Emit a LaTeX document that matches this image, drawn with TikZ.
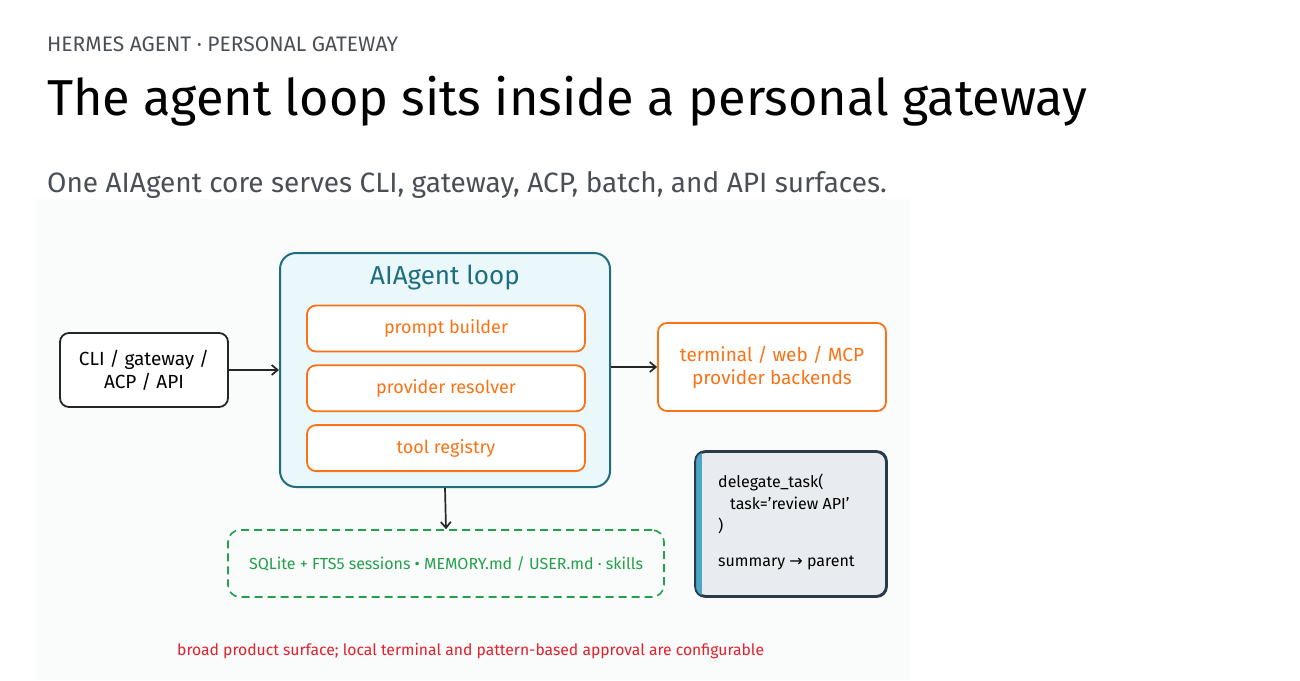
\documentclass[tikz,border=0pt]{standalone}
\usepackage{fontspec}
\setmainfont{Fira Sans}
\newfontfamily\symfont{DejaVu Sans}
\usetikzlibrary{arrows.meta,positioning}

\definecolor{inkgray}{HTML}{4A4F55}
\definecolor{diagbg}{HTML}{FAFBFB}
\definecolor{loopteal}{HTML}{1E6E80}
\definecolor{loopfill}{HTML}{EAF7FB}
\definecolor{partorange}{HTML}{F97316}
\definecolor{memgreen}{HTML}{23A04A}
\definecolor{notefill}{HTML}{E8ECF1}
\definecolor{noteedge}{HTML}{2B3A48}
\definecolor{notebar}{HTML}{4BA6C8}
\definecolor{warnred}{HTML}{E3202C}

\begin{document}
\begin{tikzpicture}[x=1pt, y=-1pt, node distance=12pt,
  flow/.style={-{Straight Barb[length=6pt,width=10pt]}, line width=1.7pt, black!85},
  plainbox/.style={draw=black!85, line width=1.8pt, rounded corners=9pt, fill=white, align=center, font=\fontsize{19}{23}\selectfont},
  partbox/.style={draw=partorange, line width=1.8pt, rounded corners=9pt, fill=white, text=partorange, minimum width=278pt, minimum height=46pt, font=\fontsize{18}{22}\selectfont},
  memorybox/.style={draw=memgreen, line width=1.6pt, dashed, dash pattern=on 8pt off 5pt, rounded corners=12pt, text=memgreen, minimum width=436pt, minimum height=67pt, font=\fontsize{16}{19}\selectfont}]
  \useasboundingbox (0,0) rectangle (1300,680);
  \fill[diagbg] (35,199) rectangle (910,680);

  % header texts
  \node[anchor=west, text=inkgray, font=\fontsize{21}{25}\selectfont, inner sep=0pt] (kicker) at (47,44) {HERMES AGENT · PERSONAL GATEWAY};
  \node[anchor=west, font=\fontsize{50.5}{58}\selectfont, inner sep=0pt] (title) at (47,101) {The agent loop sits inside a personal gateway};
  \node[anchor=west, text=inkgray, font=\fontsize{28}{33}\selectfont, inner sep=0pt] (subtitle) at (47,185) {One AIAgent core serves CLI, gateway, ACP, batch, and API surfaces.};

  % agent loop
  \node[draw=loopteal, line width=2pt, rounded corners=16pt, fill=loopfill, minimum width=330pt, minimum height=234pt] (loop) at (445,370) {};
  \node[text=loopteal, font=\fontsize{26}{30}\selectfont, inner sep=0pt] (looptitle) at (445,278) {AIAgent loop};
  \node[partbox] (prompt) at (446,328.5) {prompt builder};
  \node[partbox, below=of prompt] (resolver) {provider resolver};
  \node[partbox, below=of resolver] (registry) {tool registry};

  % surfaces and backends
  \node[plainbox, minimum width=168pt, minimum height=74pt] (surfaces) at (144,370) {CLI / gateway /\\ACP / API};
  \node[plainbox, draw=partorange, text=partorange, minimum width=228pt, minimum height=88pt] (backends) at (772,367) {terminal / web / MCP\\provider backends};

  % memory
  \node[memorybox] (memory) at (446,563.5) {SQLite + FTS5 sessions • MEMORY.md / USER.md · skills};

  % delegate note
  \node[draw=noteedge, line width=1.8pt, rounded corners=10pt, fill=notefill, minimum width=190pt, minimum height=144pt] (delegate) at (791,524) {};
  \begin{scope}
    \clip[rounded corners=10pt] (delegate.south west) rectangle (delegate.north east);
    \fill[notebar] (delegate.south west) rectangle ([xshift=7pt]delegate.north west);
  \end{scope}
  \draw[noteedge, line width=1.8pt, rounded corners=10pt] (delegate.south west) rectangle (delegate.north east);
  \node[anchor=north west, align=left, font=\fontsize{16}{22}\selectfont, inner sep=0pt] (delegatetext) at (718,474) {delegate\_task(\\\hspace{12pt}task='review API'\\)\\[13pt]summary {\symfont→} parent};

  % caveat
  \node[anchor=west, text=warnred, font=\fontsize{15.7}{19}\selectfont, inner sep=0pt] (caveat) at (177,651) {broad product surface; local terminal and pattern-based approval are configurable};

  \draw[flow] (surfaces) -- (loop.west |- surfaces);
  \draw[flow] (loop.east |- backends.west) -- (backends.west);
  \draw[flow] (loop.south) -- (memory.north);
\end{tikzpicture}
\end{document}
